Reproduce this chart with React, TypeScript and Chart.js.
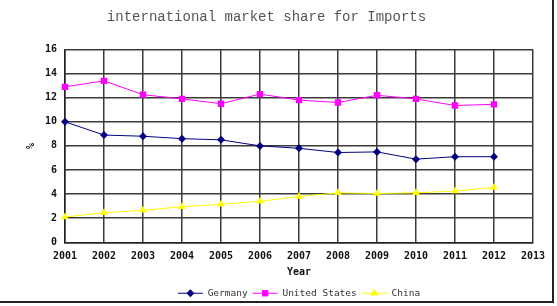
import React, { useEffect, useRef } from "react";
import { Chart, registerables } from "chart.js";

Chart.register(...registerables);

const years = ["2001", "2002", "2003", "2004", "2005", "2006", "2007", "2008", "2009", "2010", "2011", "2012", "2013"];
const germany = [10.0, 8.9, 8.8, 8.6, 8.5, 8.0, 7.8, 7.45, 7.5, 6.9, 7.1, 7.1];
const unitedStates = [12.9, 13.4, 12.25, 11.9, 11.5, 12.3, 11.8, 11.6, 12.2, 11.9, 11.35, 11.45];
const china = [2.1, 2.45, 2.65, 2.95, 3.15, 3.4, 3.8, 4.1, 4.05, 4.1, 4.25, 4.55];
const yMin = 0;
const yMax = 16;
const yStep = 2;

const LEGEND_BOX = 25;

function drawMarker(ctx: CanvasRenderingContext2D, style: string, x: number, y: number, r: number, color: string) {
  ctx.save();
  ctx.fillStyle = color;
  ctx.strokeStyle = color;
  ctx.beginPath();
  if (style === "rectRot") {
    ctx.moveTo(x, y - r);
    ctx.lineTo(x + r, y);
    ctx.lineTo(x, y + r);
    ctx.lineTo(x - r, y);
  } else if (style === "rect") {
    const s = r * Math.SQRT1_2;
    ctx.rect(x - s, y - s, 2 * s, 2 * s);
  } else {
    const h = r * 1.5;
    ctx.moveTo(x, y - r);
    ctx.lineTo(x + r * 0.95, y + h - r);
    ctx.lineTo(x - r * 0.95, y + h - r);
  }
  ctx.closePath();
  ctx.fill();
  ctx.restore();
}

const legendMarkers = {
  id: "legendMarkers",
  afterDraw(chart: any) {
    const legend = chart.legend;
    if (!legend || !legend.legendHitBoxes) return;
    const ctx = chart.ctx;
    legend.legendItems.forEach((item: any, i: number) => {
      const hb = legend.legendHitBoxes[i];
      const ds = chart.data.datasets[item.datasetIndex];
      const x = hb.left + LEGEND_BOX / 2;
      const y = hb.top + hb.height / 2;
      drawMarker(ctx, ds.pointStyle, x, y, ds.pointRadius, ds.borderColor);
    });
  },
};

export default function App() {
  const ref = useRef<HTMLCanvasElement | null>(null);

  useEffect(() => {
    const canvas = ref.current;
    if (!canvas) return;
    const tickFont = { family: "'DejaVu Sans Mono', monospace", size: 10, weight: "bold" as const };
    const chart = new Chart(canvas, {
      type: "line",
      data: {
        labels: years,
        datasets: [
          {
            label: "Germany",
            data: germany,
            borderColor: "#000080",
            backgroundColor: "#000080",
            borderWidth: 1,
            pointStyle: "rectRot",
            pointRadius: 4,
            pointBorderWidth: 0,
            tension: 0,
          },
          {
            label: "United States",
            data: unitedStates,
            borderColor: "#FF00FF",
            backgroundColor: "#FF00FF",
            borderWidth: 1,
            pointStyle: "rect",
            pointRadius: 4.5,
            pointBorderWidth: 0,
            tension: 0,
          },
          {
            label: "China",
            data: china,
            borderColor: "#FFFF00",
            backgroundColor: "#FFFF00",
            borderWidth: 1,
            pointStyle: "triangle",
            pointRadius: 4.5,
            pointBorderWidth: 0,
            tension: 0,
          },
        ],
      },
      options: {
        responsive: false,
        animation: false,
        devicePixelRatio: 1,
        layout: { padding: { left: 0, right: 24, top: 0, bottom: -2 } },
        plugins: {
          title: {
            display: true,
            text: "international market share for Imports",
            color: "#555555",
            font: { family: "'Liberation Mono', monospace", size: 14, weight: "normal" },
            padding: { top: 8.6, bottom: 24.1 },
          },
          legend: {
            position: "bottom",
            fullSize: false,
            labels: {
              boxWidth: LEGEND_BOX,
              boxHeight: 1,
              padding: 5,
              color: "#333333",
              font: { family: "'DejaVu Sans Mono', monospace", size: 9.5 },
              generateLabels: (c: any) =>
                (Chart.defaults.plugins.legend.labels.generateLabels as any)(c).map((l: any) => ({
                  ...l,
                  fillStyle: l.strokeStyle,
                  lineWidth: 0,
                })),
            },
          },
          tooltip: { enabled: false },
        },
        scales: {
          x: {
            type: "category",
            offset: false,
            grid: { color: "#3a3a3a", lineWidth: 1.5, drawTicks: false },
            border: { color: "#222222", width: 1.5 },
            ticks: { color: "#111111", font: tickFont, padding: 8, maxRotation: 0, autoSkip: false },
            title: {
              display: true,
              text: "Year",
              color: "#111111",
              font: tickFont,
              padding: 5.25,
            },
            afterFit: (s: any) => {
              s.height = 41.25;
            },
          },
          y: {
            min: yMin,
            max: yMax,
            grid: { color: "#3a3a3a", lineWidth: 1.5, drawTicks: false },
            border: { color: "#222222", width: 1.5 },
            ticks: { stepSize: yStep, color: "#111111", font: tickFont, padding: 8 },
            title: {
              display: true,
              text: "%",
              color: "#111111",
              font: tickFont,
              padding: 25.5,
            },
            afterFit: (s: any) => {
              s.width = 65;
            },
          },
        },
      },
      plugins: [legendMarkers],
    } as any);
    return () => chart.destroy();
  }, []);

  return (
    <div style={{ position: "absolute", left: 0, top: 0, width: 557, height: 306, background: "#ffffff" }}>
      <canvas ref={ref} width={557} height={306} style={{ width: 557, height: 306, display: "block" }} />
      <div style={{ position: "absolute", left: 552, top: 0, width: 2, height: 303, background: "#222222" }} />
      <div style={{ position: "absolute", left: 0, top: 301, width: 554, height: 2, background: "#222222" }} />
    </div>
  );
}
